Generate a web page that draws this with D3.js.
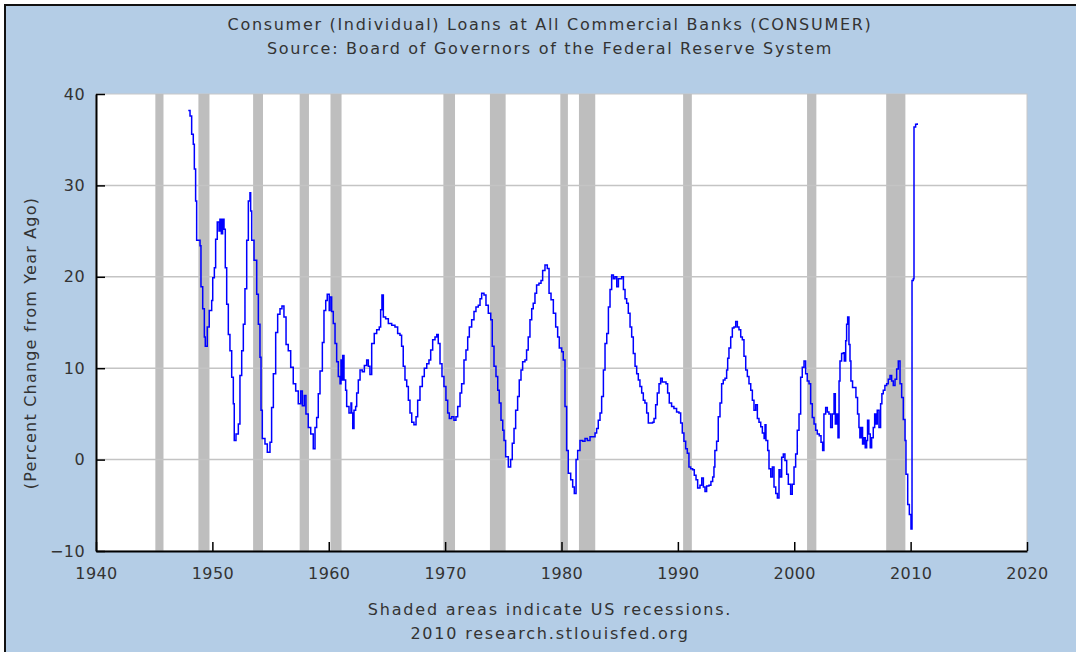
<!DOCTYPE html>
<html>
<head>
<meta charset="utf-8">
<script src="https://cdn.jsdelivr.net/npm/d3@7"></script>
<style>
  body { margin: 0; background: #fff; }
  svg { display: block; }
</style>
</head>
<body>
<svg width="1076" height="652"></svg>
<script>
var width = 1076;
var height = 652;
var plotLeft = 96, plotRight = 1027, plotTop = 94, plotBottom = 551;

var titleLines = ['Consumer (Individual) Loans at All Commercial Banks (CONSUMER)',
                  'Source: Board of Governors of the Federal Reserve System'];
var footLines = ['Shaded areas indicate US recessions.', '2010 research.stlouisfed.org'];
var yLabel = '(Percent Change from Year Ago)';
var xTicks = [1940, 1950, 1960, 1970, 1980, 1990, 2000, 2010, 2020];
var yTicks = [-10, 0, 10, 20, 30, 40];

// recession start / end, decimal years
var recessionStart = [1945.1, 1948.8, 1953.5, 1957.5, 1960.15, 1969.85, 1973.85, 1979.9, 1981.5, 1990.45, 2001.1, 2007.9];
var recessionEnd   = [1945.8, 1949.75, 1954.35, 1958.3, 1961.1, 1970.85, 1975.2, 1980.55, 1982.9, 1991.2, 2001.9, 2009.55];

// percent change from year ago
var obsDates = [
  1947.93, 1948.08, 1948.22, 1948.36, 1948.45, 1948.56, 1948.65, 1948.94, 1949.02, 1949.17, 1949.31, 1949.39,
  1949.56, 1949.73, 1949.94, 1950.03, 1950.17, 1950.28, 1950.42, 1950.57, 1950.65, 1950.77, 1950.88, 1951.0,
  1951.11, 1951.23, 1951.37, 1951.51, 1951.66, 1951.8, 1951.88, 1952.03, 1952.23, 1952.37, 1952.52, 1952.66,
  1952.8, 1952.95, 1953.09, 1953.23, 1953.29, 1953.38, 1953.58, 1953.81, 1953.95, 1954.09, 1954.18, 1954.29,
  1954.52, 1954.72, 1954.95, 1955.09, 1955.24, 1955.44, 1955.61, 1955.81, 1955.98, 1956.15, 1956.33, 1956.52,
  1956.73, 1956.95, 1957.16, 1957.38, 1957.59, 1957.73, 1957.9, 1958.04, 1958.24, 1958.45, 1958.67, 1958.82,
  1958.96, 1959.1, 1959.25, 1959.45, 1959.59, 1959.74, 1959.87, 1960.04, 1960.11, 1960.25, 1960.39, 1960.54,
  1960.68, 1960.82, 1960.97, 1961.05, 1961.11, 1961.2, 1961.31, 1961.45, 1961.54, 1961.74, 1961.91, 1961.97,
  1962.06, 1962.17, 1962.31, 1962.4, 1962.54, 1962.69, 1962.88, 1963.06, 1963.26, 1963.4, 1963.54, 1963.69,
  1963.91, 1964.12, 1964.34, 1964.46, 1964.57, 1964.69, 1964.89, 1965.12, 1965.41, 1965.69, 1965.92, 1966.12,
  1966.26, 1966.4, 1966.55, 1966.7, 1966.84, 1966.98, 1967.13, 1967.32, 1967.5, 1967.64, 1967.84, 1968.04,
  1968.21, 1968.42, 1968.61, 1968.76, 1968.93, 1969.13, 1969.28, 1969.41, 1969.56, 1969.73, 1969.9, 1970.07,
  1970.22, 1970.36, 1970.56, 1970.76, 1970.93, 1971.08, 1971.28, 1971.42, 1971.62, 1971.79, 1971.94, 1972.08,
  1972.28, 1972.48, 1972.65, 1972.85, 1973.0, 1973.14, 1973.34, 1973.51, 1973.71, 1973.92, 1974.05, 1974.2,
  1974.37, 1974.52, 1974.65, 1974.8, 1974.95, 1975.06, 1975.2, 1975.43, 1975.63, 1975.77, 1975.92, 1976.06,
  1976.23, 1976.37, 1976.52, 1976.66, 1976.86, 1977.0, 1977.14, 1977.29, 1977.44, 1977.57, 1977.72, 1977.86,
  1978.06, 1978.24, 1978.38, 1978.58, 1978.78, 1978.93, 1979.1, 1979.3, 1979.5, 1979.67, 1979.81, 1980.02,
  1980.15, 1980.3, 1980.44, 1980.58, 1980.79, 1980.96, 1981.1, 1981.25, 1981.39, 1981.59, 1981.82, 1982.02,
  1982.22, 1982.45, 1982.67, 1982.88, 1983.02, 1983.16, 1983.31, 1983.45, 1983.6, 1983.74, 1983.89, 1984.03,
  1984.17, 1984.31, 1984.46, 1984.6, 1984.75, 1984.89, 1985.03, 1985.17, 1985.32, 1985.46, 1985.6, 1985.74,
  1985.89, 1986.03, 1986.17, 1986.32, 1986.46, 1986.6, 1986.74, 1986.89, 1987.03, 1987.17, 1987.32, 1987.46,
  1987.66, 1987.83, 1987.95, 1988.09, 1988.23, 1988.38, 1988.52, 1988.66, 1988.83, 1988.98, 1989.12, 1989.26,
  1989.46, 1989.66, 1989.89, 1990.09, 1990.24, 1990.38, 1990.52, 1990.67, 1990.81, 1990.95, 1991.1, 1991.27,
  1991.41, 1991.56, 1991.7, 1991.9, 1992.05, 1992.19, 1992.33, 1992.47, 1992.67, 1992.84, 1992.99, 1993.1,
  1993.18, 1993.33, 1993.47, 1993.62, 1993.76, 1993.9, 1994.05, 1994.19, 1994.28, 1994.39, 1994.54, 1994.68,
  1994.82, 1994.97, 1995.11, 1995.25, 1995.4, 1995.54, 1995.68, 1995.83, 1995.97, 1996.11, 1996.26, 1996.4,
  1996.54, 1996.69, 1996.83, 1996.97, 1997.12, 1997.26, 1997.41, 1997.49, 1997.57, 1997.72, 1997.83, 1997.98,
  1998.12, 1998.26, 1998.41, 1998.55, 1998.69, 1998.78, 1998.92, 1999.06, 1999.2, 1999.35, 1999.49, 1999.69,
  1999.83, 1999.98, 2000.12, 2000.26, 2000.41, 2000.55, 2000.69, 2000.84, 2000.98, 2001.12, 2001.27, 2001.41,
  2001.55, 2001.7, 2001.84, 2001.98, 2002.15, 2002.3, 2002.44, 2002.55, 2002.7, 2002.84, 2002.98, 2003.13,
  2003.27, 2003.42, 2003.53, 2003.65, 2003.76, 2003.85, 2003.93, 2004.07, 2004.22, 2004.3, 2004.42, 2004.5,
  2004.59, 2004.7, 2004.79, 2004.87, 2005.01, 2005.15, 2005.3, 2005.44, 2005.56, 2005.64, 2005.76, 2005.87,
  2005.99, 2006.1, 2006.22, 2006.3, 2006.41, 2006.53, 2006.65, 2006.79, 2006.91, 2007.02, 2007.13, 2007.28,
  2007.42, 2007.53, 2007.65, 2007.79, 2007.94, 2008.08, 2008.23, 2008.37, 2008.51, 2008.66, 2008.8, 2008.94,
  2009.09, 2009.23, 2009.37, 2009.52, 2009.6, 2009.75, 2009.89, 2010.03, 2010.12, 2010.23, 2010.29, 2010.43,
  2010.57
];
var pctChange = [
  38.2, 37.6, 35.6, 34.5, 31.8, 28.3, 24.0, 23.4, 18.9, 16.5, 13.4, 12.4,
  14.5, 16.3, 17.4, 19.9, 21.0, 24.1, 26.0, 25.0, 26.3, 24.7, 26.3, 25.2,
  21.0, 17.0, 13.7, 11.9, 9.0, 6.1, 2.1, 2.8, 3.9, 9.2, 11.9, 14.8,
  18.7, 24.0, 28.3, 29.2, 27.2, 24.0, 21.8, 18.1, 14.8, 11.2, 5.4, 2.3,
  1.7, 0.8, 1.9, 5.7, 9.4, 13.9, 15.9, 16.5, 16.8, 15.6, 12.6, 11.9,
  10.1, 8.3, 7.5, 6.1, 7.5, 5.9, 7.0, 5.0, 3.5, 2.8, 1.2, 3.5,
  4.6, 7.2, 9.7, 12.8, 16.3, 17.4, 18.1, 16.3, 17.8, 16.2, 14.9, 12.7,
  10.7, 9.1, 8.3, 10.9, 8.7, 11.4, 8.7, 7.6, 5.8, 5.1, 6.2, 5.1,
  3.4, 5.4, 5.8, 7.3, 8.7, 9.8, 9.6, 10.3, 10.9, 10.2, 9.3, 12.7,
  13.8, 14.2, 14.5, 16.4, 18.0, 15.6, 15.4, 14.9, 14.7, 14.5, 13.8, 13.6,
  12.4, 10.2, 8.7, 8.0, 6.5, 5.1, 4.1, 3.8, 4.7, 6.5, 8.0, 9.1,
  10.0, 10.5, 10.9, 12.0, 13.1, 13.4, 13.7, 12.7, 10.5, 9.1, 8.0, 6.5,
  5.1, 4.5, 4.7, 4.3, 4.7, 5.8, 7.3, 8.3, 10.9, 12.0, 13.4, 14.5,
  15.3, 16.2, 16.7, 16.9, 17.6, 18.2, 18.0, 16.9, 16.0, 15.3, 12.4, 10.2,
  9.1, 7.6, 6.2, 4.3, 3.2, 2.1, 0.3, -0.8, 0.0, 1.8, 3.4, 5.4,
  6.9, 8.7, 9.8, 10.7, 10.9, 12.0, 13.4, 15.3, 16.5, 17.1, 18.2, 19.1,
  19.3, 19.6, 20.7, 21.3, 20.9, 18.2, 17.5, 16.0, 14.5, 13.4, 12.2, 11.8,
  10.9, 5.8, 1.0, -1.5, -2.2, -3.0, -3.7, 0.0, 1.0, 2.1, 2.0, 2.3,
  2.1, 2.5, 2.5, 2.9, 3.4, 4.3, 5.1, 6.9, 9.8, 12.7, 13.8, 16.7,
  18.6, 20.2, 19.8, 20.0, 18.9, 19.8, 19.8, 20.0, 18.6, 17.6, 17.1, 16.0,
  14.5, 13.4, 11.6, 10.2, 9.4, 8.7, 8.0, 7.3, 6.5, 6.2, 5.1, 4.0,
  4.0, 4.1, 4.5, 6.0, 7.3, 8.3, 8.9, 8.5, 8.5, 8.3, 7.3, 6.2,
  5.8, 5.6, 5.2, 5.1, 4.0, 2.9, 2.0, 1.2, 0.7, -0.8, -1.0, -1.1,
  -1.7, -2.2, -3.1, -2.8, -2.0, -3.0, -3.5, -2.9, -2.8, -2.4, -1.9, -0.8,
  1.0, 2.0, 4.7, 6.2, 8.3, 8.7, 8.9, 9.8, 11.1, 12.2, 13.4, 14.4,
  14.5, 15.1, 14.5, 14.2, 13.4, 13.1, 11.3, 9.8, 9.1, 8.3, 7.6, 6.5,
  5.4, 6.0, 4.5, 4.1, 3.6, 2.9, 2.3, 3.8, 2.1, 1.0, -1.0, -1.9,
  -0.8, -3.0, -3.7, -4.2, -1.1, -1.9, 0.25, 0.6, -0.1, -1.6, -2.7, -3.8,
  -2.7, -0.8, 0.6, 3.2, 5.0, 9.0, 10.1, 10.8, 9.4, 8.6, 8.3, 6.1,
  4.6, 3.9, 3.2, 2.8, 2.6, 1.9, 1.0, 5.0, 5.7, 5.2, 5.0, 3.5,
  5.0, 7.2, 3.9, 5.0, 2.4, 8.6, 10.8, 11.6, 11.7, 10.8, 13.0, 14.8,
  15.6, 12.6, 10.8, 8.6, 7.9, 7.9, 6.8, 5.0, 3.5, 2.4, 3.5, 1.7,
  2.4, 1.3, 2.1, 4.3, 2.8, 1.3, 2.4, 3.5, 5.0, 3.9, 5.4, 3.5,
  6.1, 7.2, 7.6, 8.1, 8.3, 8.8, 9.2, 8.6, 8.1, 8.8, 9.9, 10.8,
  8.3, 6.8, 4.4, 2.1, -1.6, -4.9, -6.0, -7.6, 19.6, 19.8, 36.4, 36.7,
  36.8
];

var svg = d3.select('svg');

svg.append('rect').attr('x', 6).attr('y', 6).attr('width', width - 6).attr('height', height - 6).attr('fill', '#b4cde6');
// dark frame on top and left edges
svg.append('path').attr('d', 'M5,' + height + 'V5H' + width)
  .attr('fill', 'none').attr('stroke', '#111').attr('stroke-width', 2);

var xScale = d3.scaleLinear().domain([1940, 2020]).range([plotLeft, plotRight]);
var yScale = d3.scaleLinear().domain([-10, 40]).range([plotBottom, plotTop]);

svg.append('rect')
  .attr('x', plotLeft).attr('y', plotTop)
  .attr('width', plotRight - plotLeft).attr('height', plotBottom - plotTop)
  .attr('fill', '#fff').attr('stroke', '#c8c8c8');

var recessions = recessionStart.map(function(s, i) { return [s, recessionEnd[i]]; });
svg.append('g').selectAll('rect').data(recessions).enter()
  .append('rect')
  .attr('x', function(d) { return xScale(d[0]); })
  .attr('width', function(d) { return xScale(d[1]) - xScale(d[0]); })
  .attr('y', plotTop)
  .attr('height', plotBottom - plotTop)
  .attr('fill', '#bebebe');

svg.append('g').selectAll('line').data(yTicks.filter(function(t) { return t > -10 && t < 40; })).enter()
  .append('line')
  .attr('x1', plotLeft).attr('x2', plotRight)
  .attr('y1', function(d) { return yScale(d); })
  .attr('y2', function(d) { return yScale(d); })
  .attr('stroke', '#c4c4c4')
  .attr('stroke-width', 1.5);

var series = obsDates.map(function(t, i) { return [t, pctChange[i]]; });
var line = d3.line()
  .x(function(d) { return xScale(d[0]); })
  .y(function(d) { return yScale(d[1]); })
  .curve(d3.curveStepAfter);
svg.append('path')
  .datum(series)
  .attr('d', line)
  .attr('fill', 'none')
  .attr('stroke', '#0000ff')
  .attr('stroke-width', 1.5);

var axisLeft = d3.axisLeft(yScale).tickValues(yTicks).tickSizeInner(-9).tickSizeOuter(0).tickPadding(11);
var gy = svg.append('g').attr('transform', 'translate(' + plotLeft + ',0)').call(axisLeft);

var axisBottom = d3.axisBottom(xScale).tickValues(xTicks).tickFormat(d3.format('d')).tickSizeInner(-9).tickSizeOuter(0).tickPadding(17);
var gx = svg.append('g').attr('transform', 'translate(0,' + plotBottom + ')').call(axisBottom);

[gx, gy].forEach(function(g) {
  g.select('.domain').attr('stroke', '#000').attr('stroke-width', 2);
  g.selectAll('.tick line').attr('stroke', '#000').attr('stroke-width', 1.5);
  g.selectAll('.tick text')
    .attr('font-family', 'DejaVu Sans')
    .attr('font-size', '16px')
    .attr('letter-spacing', '0.4px')
    .attr('fill', '#333');
});

svg.selectAll('.title').data(titleLines).enter()
  .append('text')
  .attr('x', 550)
  .attr('y', function(d, i) { return 30 + i * 24; })
  .attr('text-anchor', 'middle')
  .attr('font-family', 'DejaVu Sans')
  .attr('font-size', '16px')
  .attr('letter-spacing', '1.7px')
  .attr('fill', '#333')
  .text(function(d) { return d; });

svg.selectAll('.foot').data(footLines).enter()
  .append('text')
  .attr('x', 550)
  .attr('y', function(d, i) { return 615 + i * 24; })
  .attr('text-anchor', 'middle')
  .attr('font-family', 'DejaVu Sans')
  .attr('font-size', '16px')
  .attr('letter-spacing', '1.8px')
  .attr('fill', '#333')
  .text(function(d) { return d; });

svg.append('text')
  .attr('transform', 'translate(36,343) rotate(-90)')
  .attr('text-anchor', 'middle')
  .attr('font-family', 'DejaVu Sans')
  .attr('font-size', '16px')
  .attr('letter-spacing', '1.2px')
  .attr('fill', '#333')
  .text(yLabel);
</script>
</body>
</html>
